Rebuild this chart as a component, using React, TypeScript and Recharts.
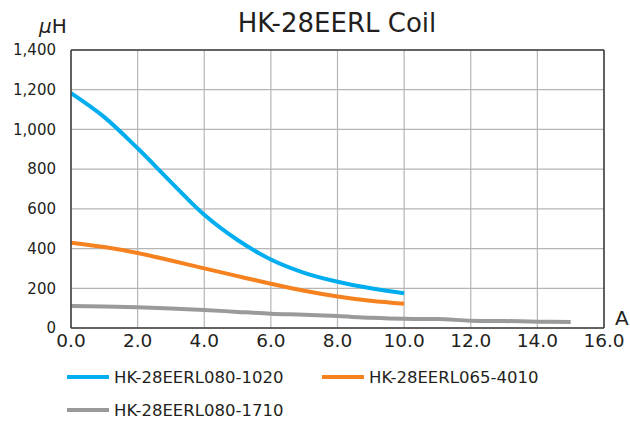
import React from 'react'
import {
  LineChart, Line, XAxis, YAxis, CartesianGrid, ReferenceLine,
} from 'recharts'

const X_TICKS = [0, 2, 4, 6, 8, 10, 12, 14, 16]
const Y_TICKS = [0, 200, 400, 600, 800, 1000, 1200, 1400]

const blueX = [0, 1, 2, 3, 4, 5, 6, 7, 8, 9, 10]
const blueY = [1183, 1062, 905, 735, 570, 443, 345, 278, 233, 200, 175]

const orangeX = [0, 1, 2, 3, 4, 5, 6, 7, 8, 9, 10]
const orangeY = [430, 408, 378, 340, 300, 261, 223, 188, 159, 137, 122]

const grayX = [0, 1, 2, 3, 4, 5, 6, 7, 8, 9, 10, 11, 12, 13, 14, 15]
const grayY = [111, 108, 104, 98, 91, 81, 72, 67, 60, 51, 46, 45, 37, 35, 32, 30]

const SERIES = [
  { name: 'HK-28EERL080-1020', color: '#00aeef', xs: blueX, ys: blueY },
  { name: 'HK-28EERL065-4010', color: '#f6821f', xs: orangeX, ys: orangeY },
  { name: 'HK-28EERL080-1710', color: '#9a9a9c', xs: grayX, ys: grayY },
]

const FONT = '"DejaVu Sans", "Noto Sans", sans-serif'
const TEXT = '#231f20'
const AXIS = '#3e3a39'

const toRows = (xs: number[], ys: number[]) => xs.map((x, i) => ({ x, y: ys[i] }))

export default function App() {
  return (
    <div style={{ position: 'absolute', left: 0, top: 0, width: 630, height: 422, background: '#fff', fontFamily: FONT }}>
      <LineChart width={630} height={422} margin={{ top: 50, right: 26, bottom: 64, left: 0 }}>
        <CartesianGrid stroke="#b5b5b6" strokeWidth={1.2} />
        <XAxis
          type="number" dataKey="x" domain={[0, 16]} ticks={X_TICKS} allowDataOverflow
          tickFormatter={(v: number) => v.toFixed(1)}
          axisLine={{ stroke: AXIS, strokeWidth: 1.5 }} tickLine={false} tickSize={0} tickMargin={6}
          tick={{ fill: TEXT, fontSize: 18.5, fontFamily: FONT }} height={30}
        />
        <YAxis
          type="number" domain={[0, 1400]} ticks={Y_TICKS} allowDataOverflow
          tickFormatter={(v: number) => v.toLocaleString('en-US')}
          axisLine={{ stroke: AXIS, strokeWidth: 1.5 }} tickLine={false} tickSize={0} tickMargin={15}
          tick={{ fill: TEXT, fontSize: 15, fontFamily: FONT }} width={71}
        />
        <ReferenceLine x={16} stroke={AXIS} strokeWidth={1.5} />
        <ReferenceLine y={1400} stroke={AXIS} strokeWidth={1.5} />
        {SERIES.map(s => (
          <Line
            key={s.name} data={toRows(s.xs, s.ys)} dataKey="y" name={s.name}
            type="monotone" stroke={s.color} strokeWidth={4} dot={false}
            activeDot={false} isAnimationActive={false}
          />
        ))}
        <text x={337} y={32} textAnchor="middle" fontSize={26} fill={TEXT} fontFamily={FONT}>HK-28EERL Coil</text>
        <text x={39} y={33} fontSize={20} fill={TEXT} fontFamily={FONT}>
          <tspan fontStyle="italic">μ</tspan>H
        </text>
        <text x={615} y={325} fontSize={20} fill={TEXT} fontFamily={FONT}>A</text>
      </LineChart>
      {SERIES.map((s, i) => {
        const left = i === 1 ? 322 : 67
        const top = i === 2 ? 410 : 377
        return (
          <div key={s.name} style={{ position: 'absolute', left, top: top - 12, height: 24, display: 'flex', alignItems: 'center' }}>
            <span style={{ display: 'inline-block', width: 42, height: 4, background: s.color, marginRight: 5 }} />
            <span style={{ fontSize: 16.5, color: TEXT, whiteSpace: 'nowrap' }}>{s.name}</span>
          </div>
        )
      })}
    </div>
  )
}
